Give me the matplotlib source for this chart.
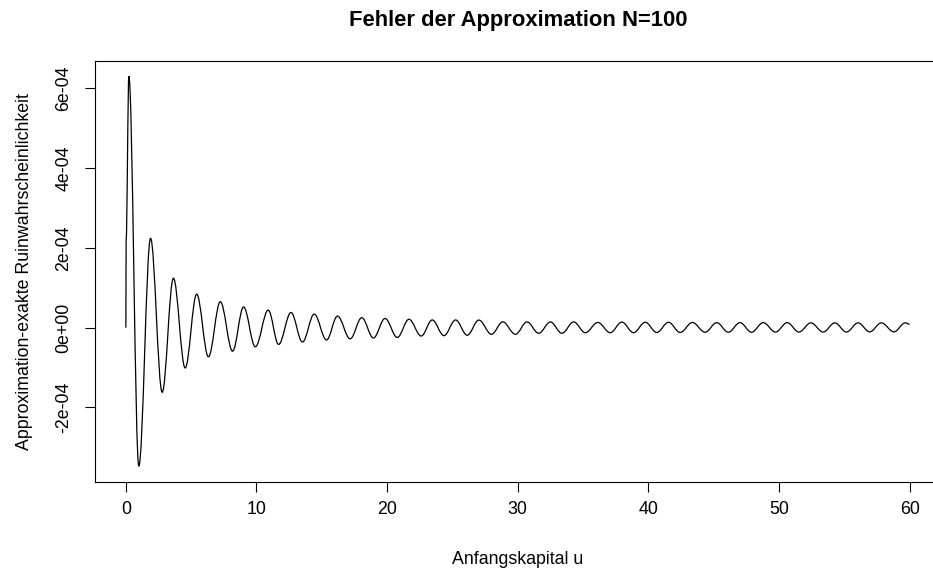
import numpy as np
import matplotlib.pyplot as plt
from matplotlib.path import Path
from matplotlib.patches import PathPatch

plt.rcParams['font.family'] = ['Liberation Sans', 'DejaVu Sans']

# Anfang der Kurve (steiler Anstieg bei u=0)
u_start = [0.0, 0.02]
err_start = [0.0, 2.2e-4]

# Extremstellen (Maxima/Minima) der Fehlerkurve
u_ext = [0.23, 0.99, 1.89, 2.78, 3.64, 4.54, 5.42, 6.32, 7.23, 8.17,
         9.01, 9.91, 10.90, 11.69, 12.64, 13.52, 14.42, 15.36, 16.20, 17.17,
         18.06, 18.95, 19.84, 20.78, 21.67, 22.61, 23.45, 24.35, 25.24, 26.13,
         27.02, 27.99, 28.85, 29.82, 30.71, 31.60, 32.50, 33.38, 34.28, 35.17,
         36.13, 37.08, 37.97, 38.86, 39.76, 40.64, 41.54, 42.43, 43.37, 44.34,
         45.23, 46.12, 47.01, 47.90, 48.79, 49.73, 50.63, 51.52, 52.44, 53.38,
         54.27, 55.16, 56.05, 56.94, 57.83, 58.80, 59.66, 60.0]
err_ext = [6.30e-4, -3.47e-4, 2.24e-4, -1.62e-4, 1.24e-4, -1.01e-4, 8.4e-5, -7.3e-5, 6.5e-5, -5.9e-5,
           5.2e-5, -4.8e-5, 4.4e-5, -4.2e-5, 3.8e-5, -3.6e-5, 3.4e-5, -3.1e-5, 2.9e-5, -2.8e-5,
           2.5e-5, -2.6e-5, 2.3e-5, -2.45e-5, 2.1e-5, -2.1e-5, 1.93e-5, -2.0e-5, 1.93e-5, -1.9e-5,
           1.9e-5, -1.66e-5, 1.45e-5, -1.66e-5, 1.43e-5, -1.41e-5, 1.43e-5, -1.41e-5, 1.43e-5, -1.26e-5,
           1.3e-5, -1.26e-5, 1.4e-5, -1.26e-5, 1.35e-5, -1.2e-5, 1.35e-5, -1.2e-5, 1.3e-5, -1.15e-5,
           1.26e-5, -1.15e-5, 1.26e-5, -1.15e-5, 1.26e-5, -1.1e-5, 1.26e-5, -1.1e-5, 1.2e-5, -1.1e-5,
           1.2e-5, -1.1e-5, 1.2e-5, -1.05e-5, 1.2e-5, -1.05e-5, 1.2e-5, 0.85e-5]

yticks = [-2e-4, 0, 2e-4, 4e-4, 6e-4]
ytick_labels = ["-2e-04", "0e+00", "2e-04", "4e-04", "6e-04"]
xticks = [0, 10, 20, 30, 40, 50, 60]

# Pfad: Anfangssegmente als Linien, dann glatte Bezier-Halbwellen zwischen den Extrema
verts = [(u_start[0], err_start[0])]
codes = [Path.MOVETO]
for u, e in zip(u_start[1:], err_start[1:]):
    verts.append((u, e))
    codes.append(Path.LINETO)
pts = list(zip([u_start[-1]] + u_ext, [err_start[-1]] + err_ext))
k = 0.364
for (x0, y0), (x1, y1) in zip(pts[:-1], pts[1:]):
    dx = x1 - x0
    verts += [(x0 + k * dx, y0), (x1 - k * dx, y1), (x1, y1)]
    codes += [Path.CURVE4] * 3

fig = plt.figure(figsize=(9.33, 5.71), dpi=100)
ax = fig.add_axes([0.1013, 0.1564, 0.9073, 0.7373])

ax.add_patch(PathPatch(Path(verts, codes), fill=False, edgecolor='black', lw=0.9))

# R-typische 4% Rand
xmin, xmax = 0, 60
all_err = err_start + err_ext
ymin, ymax = min(all_err), max(all_err)
ax.set_xlim(xmin - 0.04 * (xmax - xmin), xmax + 0.04 * (xmax - xmin))
ax.set_ylim(ymin - 0.04 * (ymax - ymin), ymax + 0.04 * (ymax - ymin))

ax.set_xticks(xticks)
ax.set_xticklabels([str(t) for t in xticks])
ax.set_yticks(yticks)
ax.set_yticklabels(ytick_labels, rotation=90, va='center')
ax.tick_params(direction='out', length=7, width=0.8, labelsize=12.8, pad=7)
ax.tick_params(axis='y', pad=9)
for s in ax.spines.values():
    s.set_linewidth(0.8)

ax.set_title("Fehler der Approximation N=100", fontsize=15.8, fontweight='bold', pad=25)
ax.set_xlabel("Anfangskapital u", fontsize=12.8, labelpad=24)
ax.set_ylabel("Approximation-exakte Ruinwahrscheinlichkeit", fontsize=12.8, labelpad=16)

plt.savefig("out.png", dpi=100)
